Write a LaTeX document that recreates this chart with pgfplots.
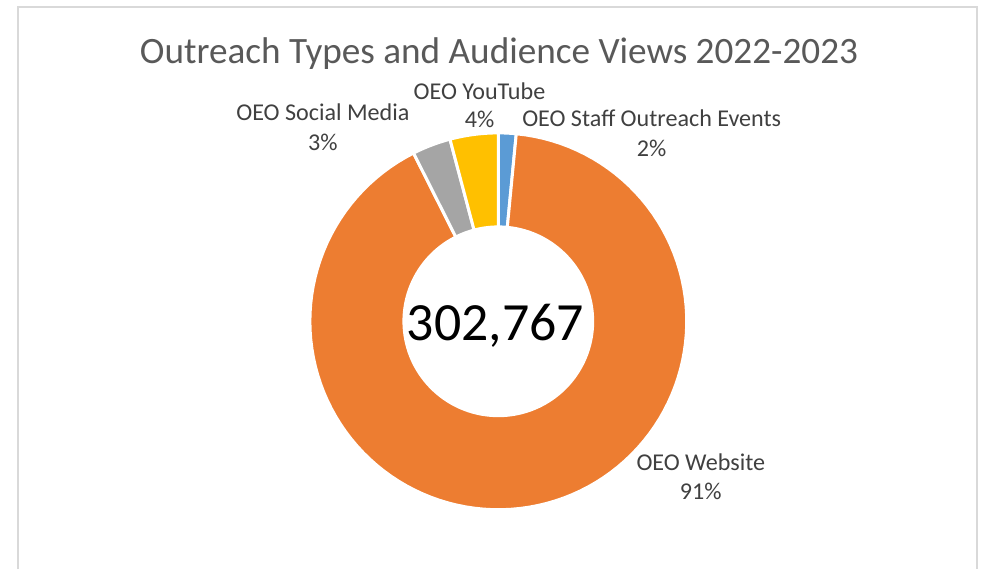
\documentclass[border=0pt]{standalone}
\usepackage{fontspec}
\setmainfont{Carlito}
\usepackage{pgfplots}
\pgfplotsset{compat=1.18}
\usepgfplotslibrary{fillbetween}

\definecolor{cStaff}{HTML}{5B9BD5}
\definecolor{cWeb}{HTML}{ED7D31}
\definecolor{cSocial}{HTML}{A5A5A5}
\definecolor{cTube}{HTML}{FFC000}
\definecolor{lbl}{HTML}{404040}
\definecolor{ttl}{HTML}{595959}
\definecolor{frm}{HTML}{D9D9D9}

% share of audience views, per cent (total 302,767)
\def\pStaff{1.52}
\def\pWeb{91.05}
\def\pSocial{3.30}
\def\pTube{4.13}

% one ring segment between two angles (degrees)
\newcommand\ring[4]{%
  \addplot[draw=none, data cs=polar, domain=#1:#2, samples=120, name path=o#4] ({x},{1});
  \addplot[draw=none, data cs=polar, domain=#1:#2, samples=120, name path=i#4] ({x},{0.501});
  \addplot[fill=#3, draw=white, line width=1.5pt] fill between[of=o#4 and i#4];
}

\begin{document}
\begin{tikzpicture}
  \pgfmathsetmacro\aA{90}
  \pgfmathsetmacro\aB{\aA-3.6*\pStaff}
  \pgfmathsetmacro\aC{\aB-3.6*\pWeb}
  \pgfmathsetmacro\aD{\aC-3.6*\pSocial}
  \pgfmathsetmacro\aE{\aD-3.6*\pTube}

  \path (0,0) rectangle (491.5pt,284.5pt);
  \draw[frm, line width=1pt] (9pt,0) -- (9pt,281pt) -- (488.5pt,281pt) -- (488.5pt,0);

  \begin{axis}[
    at={(249.15pt,123.85pt)}, anchor=center,
    x=94.2pt, y=94.2pt,
    xmin=-1, xmax=1, ymin=-1, ymax=1,
    hide axis, clip=false,
    ]
    \ring{\aB}{\aA}{cStaff}{s}
    \ring{\aC}{\aB}{cWeb}{w}
    \ring{\aD}{\aC}{cSocial}{m}
    \ring{\aE}{\aD}{cTube}{y}
  \end{axis}

  \node[ttl, anchor=base, font=\fontsize{18.6}{22}\selectfont] at (249.5pt,253pt)
    {Outreach Types and Audience Views 2022-2023};

  \begin{scope}[every node/.style={lbl, anchor=base, font=\fontsize{12.05}{15}\selectfont}]
    \node at (161.45pt,224.5pt) {OEO Social Media};
    \node at (161.45pt,209.5pt) {3\%};
    \node at (239.75pt,235pt) {OEO YouTube};
    \node at (239.75pt,220.65pt) {4\%};
    \node at (325.85pt,221.5pt) {OEO Staff Outreach Events};
    \node at (325.85pt,206.5pt) {2\%};
    \node at (350.4pt,49.5pt) {OEO Website};
    \node at (350.4pt,34.85pt) {91\%};
  \end{scope}

  \node[black, anchor=base, font=\fontsize{26.9}{31}\selectfont] at (247.75pt,114.5pt) {302,767};
\end{tikzpicture}
\end{document}
